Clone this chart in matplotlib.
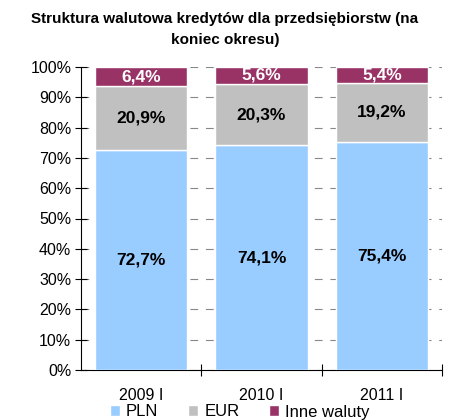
import matplotlib
matplotlib.use("Agg")
import matplotlib.pyplot as plt
import numpy as np

plt.rcParams['font.family'] = ['Liberation Sans', 'DejaVu Sans']

categories = ["2009 I", "2010 I", "2011 I"]
pln = [72.7, 74.1, 75.4]
eur = [20.9, 20.3, 19.2]
inne = [6.4, 5.6, 5.4]
series_names = ["PLN", "EUR", "Inne waluty"]
colors = ["#99CCFF", "#C0C0C0", "#993366"]
label_colors = ["black", "black", "white"]

fig = plt.figure(figsize=(4.5, 4.2), dpi=100)
ax = fig.add_axes([81/450, 1-370/420, (442-81)/450, (370-67)/420])

x = np.arange(len(categories))
bottom = np.zeros(len(categories))
handles = []
for vals, name, col, lc in zip([pln, eur, inne], series_names, colors, label_colors):
    vals = np.array(vals)
    b = ax.bar(x, vals, 0.77, bottom=bottom, color=col, edgecolor="white", linewidth=1, label=name, zorder=3)
    handles.append(b)
    for xi, v, bt in zip(x, vals, bottom):
        ax.text(xi, bt + v/2, f"{v:.1f}%".replace(".", ","), ha="center", va="center",
                fontsize=12.5, fontweight="bold", color=lc, zorder=4)
    bottom += vals

ax.set_xlim(-0.5, 2.5)
ax.set_ylim(0, 100)
ax.set_yticks(np.arange(0, 101, 10))
ax.set_yticklabels([f"{v}%" for v in range(0, 101, 10)], fontsize=11.5)
ax.set_xticks([0.5, 1.5, 2.5])
ax.set_xticklabels([])
ax.set_xticks(x, minor=True)
ax.set_xticklabels(categories, minor=True, fontsize=11.5)
ax.tick_params(axis="x", which="minor", length=0, pad=13)
ax.tick_params(axis="x", which="major", direction="inout", length=8)
ax.tick_params(axis="y", direction="inout", length=8, pad=3)
ax.yaxis.grid(True, linestyle=(0, (7, 7)), color="#888888", linewidth=0.8, zorder=0)
ax.set_axisbelow(True)
for s in ["top", "right"]:
    ax.spines[s].set_visible(False)

fig.suptitle("Struktura walutowa kredytów dla przedsiębiorstw (na\nkoniec okresu)",
             fontsize=11, fontweight="bold", y=1-12/420, va="top", linespacing=1.65)

fig.legend(handles=handles, labels=series_names, loc="center", bbox_to_anchor=(240/450, 1-412/420),
           ncol=3, frameon=False, fontsize=12, handlelength=0.6, handleheight=0.6,
           columnspacing=1.8, handletextpad=0.35, borderpad=0)

fig.savefig("out.png", dpi=100)
